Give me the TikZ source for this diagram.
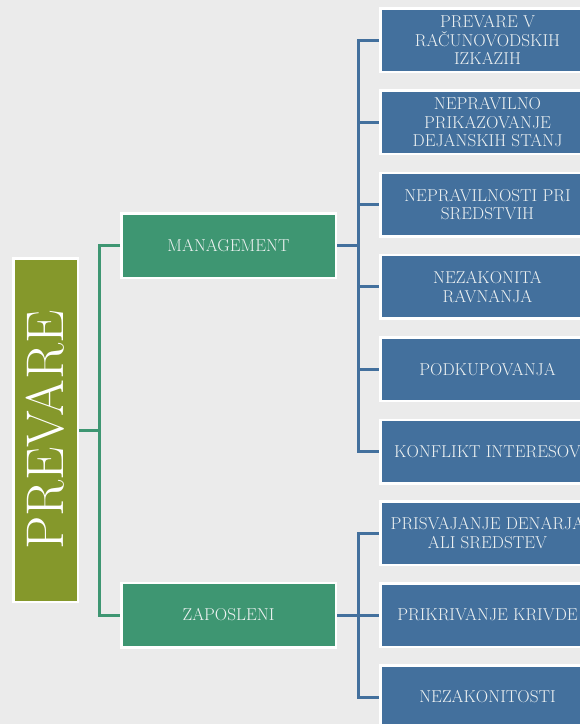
\documentclass[tikz,border=0pt]{standalone}
\usepackage{fontspec}
\usepackage{tikz}
\usetikzlibrary{positioning}

\definecolor{bgray}{HTML}{EBEBEB}
\definecolor{prolive}{HTML}{85982B}
\definecolor{mgreen}{HTML}{3E9672}
\definecolor{mblue}{HTML}{43709D}
\definecolor{boxtext}{HTML}{EEF2F2}

\begin{document}
\begin{tikzpicture}[x=1pt,y=-1pt,
    rootbox/.style={fill=prolive,draw=white,line width=2.5pt,minimum width=64.5pt,minimum height=343.5pt,inner sep=0pt,text=white,font=\fontsize{53}{53}\selectfont},
    midbox/.style={fill=mgreen,draw=white,line width=2.5pt,minimum width=214.5pt,minimum height=64.5pt,inner sep=0pt,text=boxtext,font=\fontsize{17.2}{18.7}\selectfont},
    leafbox/.style={fill=mblue,draw=white,line width=2.5pt,minimum width=214.5pt,minimum height=63.5pt,inner sep=0pt,text=boxtext,align=center,font=\fontsize{17.2}{18.7}\selectfont},
    gline/.style={draw=mgreen,line width=3pt},
    bline/.style={draw=mblue,line width=3pt}]

        \useasboundingbox (0,0) rectangle (580,724);
        \fill[bgray] (0,0) rectangle (580,724);
        \clip (0,0) rectangle (580,724);

        \node[rootbox](prevare) at (45.5,430){\rotatebox{90}{PREVARE}};
        \node[midbox](mgmt) at (228.5,245.75){MANAGEMENT};
        \node[midbox](zap) at (228.5,615){ZAPOSLENI};

        % management
        \node[leafbox](m1) at (487.5,40){PREVARE V\\RAČUNOVODSKIH\\IZKAZIH};
        \node[leafbox](m2)[below = 16.3pt of m1]{NEPRAVILNO\\PRIKAZOVANJE\\DEJANSKIH STANJ};
        \node[leafbox](m3)[below = 16.3pt of m2]{NEPRAVILNOSTI PRI\\SREDSTVIH};
        \node[leafbox](m4)[below = 16.3pt of m3]{NEZAKONITA\\RAVNANJA};
        \node[leafbox](m5)[below = 16.3pt of m4]{PODKUPOVANJA};
        \node[leafbox](m6)[below = 16.3pt of m5]{KONFLIKT INTERESOV};

        % zaposleni
        \node[leafbox](z2)[right = 42pt of zap]{PRIKRIVANJE KRIVDE};
        \node[leafbox](z1)[above = 16pt of z2]{PRISVAJANJE DENARJA\\ALI SREDSTEV};
        \node[leafbox](z3)[below = 16pt of z2]{NEZAKONITOSTI};

        \coordinate (lj) at ([xshift=20pt]prevare.east);
        \coordinate (mj) at ([xshift=21pt]mgmt.east);
        \coordinate (zj) at ([xshift=21pt]zap.east);

        \draw[gline] (prevare.east) -- (lj)
        (mgmt.west) -| (lj) |- (zap.west);

        \draw[bline] (mgmt.east) -- (mj)
        (m1.west) -| (mj) |- (m6.west)
        (mj |- m2.west) -- (m2.west)
        (mj |- m3.west) -- (m3.west)
        (mj |- m4.west) -- (m4.west)
        (mj |- m5.west) -- (m5.west);

        \draw[bline] (zap.east) -- (zj)
        (z1.west) -| (zj) |- (z3.west)
        (zj |- z2.west) -- (z2.west);
    \end{tikzpicture}
\end{document}
